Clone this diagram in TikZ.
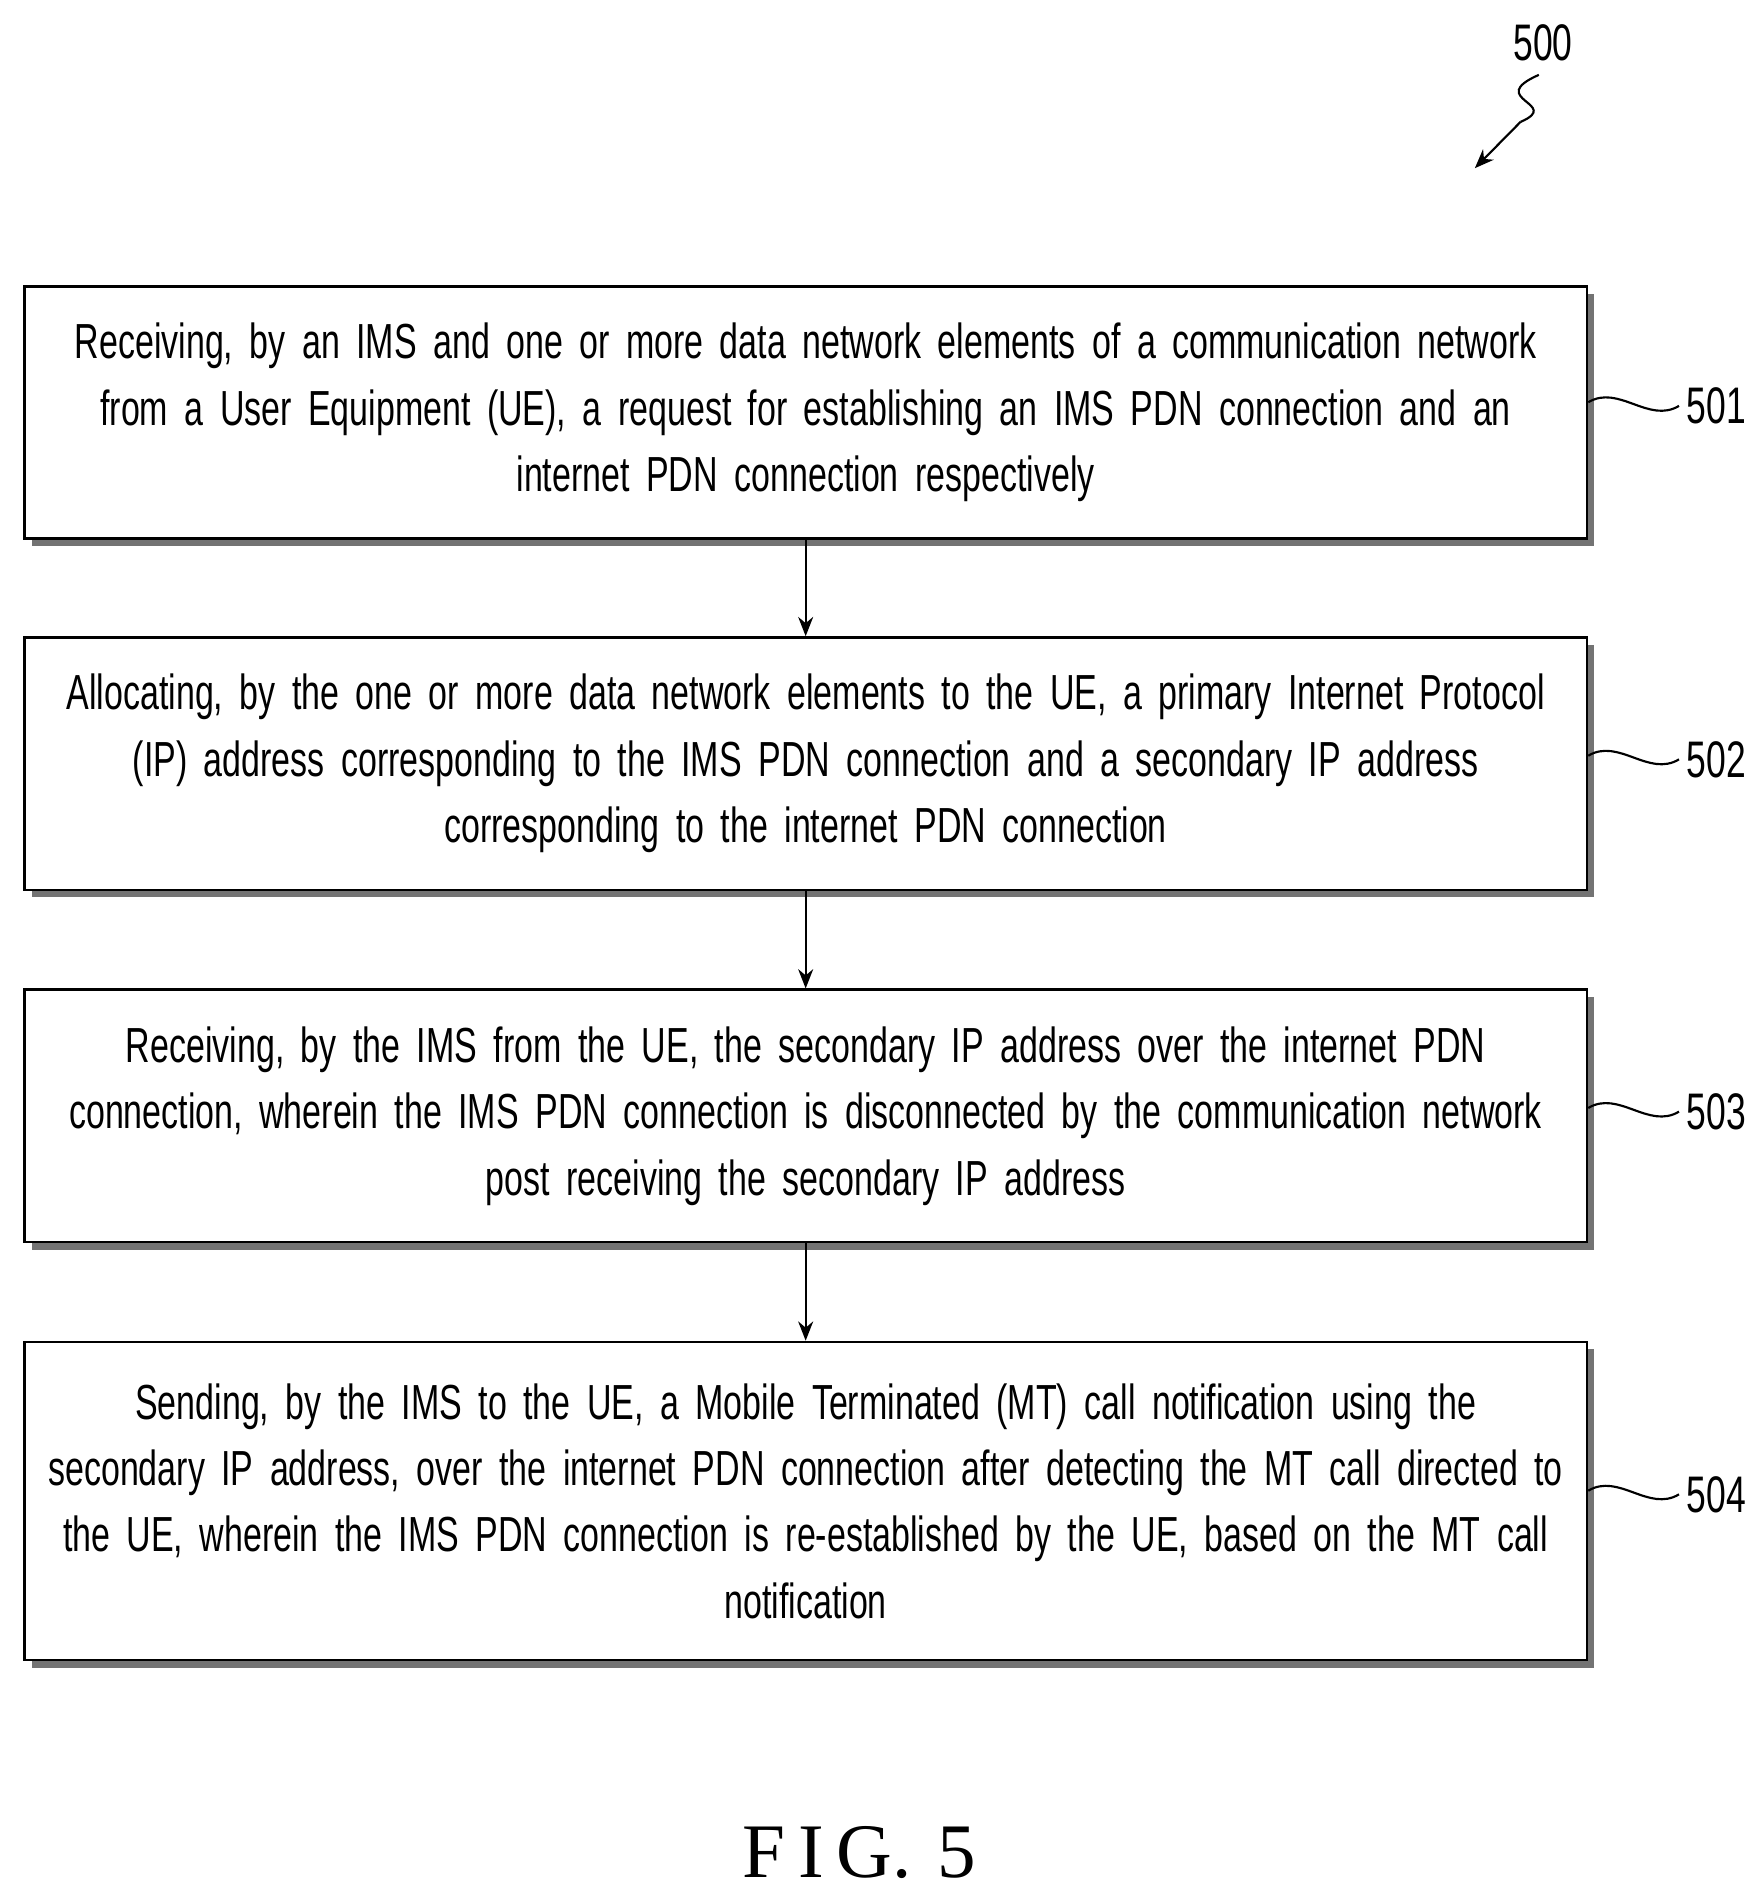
\documentclass[tikz,border=0pt]{standalone}
\usepackage{fontspec}
\setmainfont{Liberation Sans}[FakeStretch=0.69]
\newfontfamily\figfont{Liberation Serif}
\usetikzlibrary{shadows,arrows.meta}
\tikzset{
  stepbox/.style={draw, line width=1.2pt, fill=white, minimum width=25.64cm,
    text width=25cm, align=center, font=\fontsize{23}{31}\selectfont,
    drop shadow={shadow xshift=3.5pt, shadow yshift=-3.5pt, fill=black!55, opacity=1}},
  tag/.style={font=\fontsize{24}{28}\selectfont},
  flow/.style={-{Stealth[length=9pt,width=7pt]}, line width=1pt}
}
\begin{document}
\begin{tikzpicture}
\useasboundingbox (0,0) rectangle (28.8,-31.16);
% steps
\node[stepbox, minimum height=4.14cm] (s501) at (13.22,-6.77)
  {Receiving, by an IMS and one or more data network elements of a communication network\\
   from a User Equipment (UE), a request for establishing an IMS PDN connection and an\\
   internet PDN connection respectively};
\node[stepbox, minimum height=4.14cm] (s502) at (13.22,-12.53)
  {Allocating, by the one or more data network elements to the UE, a primary Internet Protocol\\
   (IP) address corresponding to the IMS PDN connection and a secondary IP address\\
   corresponding to the internet PDN connection};
\node[stepbox, minimum height=4.14cm] (s503) at (13.22,-18.31)
  {Receiving, by the IMS from the UE, the secondary IP address over the internet PDN\\
   connection, wherein the IMS PDN connection is disconnected by the communication network\\
   post receiving the secondary IP address};
\node[stepbox, minimum height=5.22cm] (s504) at (13.22,-24.63)
  {Sending, by the IMS to the UE, a Mobile Terminated (MT) call notification using the\\
   secondary IP address, over the internet PDN connection after detecting the MT call directed to\\
   the UE, wherein the IMS PDN connection is re-established by the UE, based on the MT call\\
   notification};
\draw[flow] (s501) -- (s502);
\draw[flow] (s502) -- (s503);
\draw[flow] (s503) -- (s504);
% reference numerals
\foreach \n/\y in {501/-6.66, 502/-12.46, 503/-18.24, 504/-24.52}{
  \node[tag, anchor=west] (t\n) at (27.55,\y) {\n};
  \draw[line width=1pt] (s\n.east |- t\n.west) ++(0,0.06)
    .. controls +(0.5,0.3) and +(-0.5,-0.3) .. (t\n.west);
}
\node[tag] (t500) at (25.32,-0.7) {500};
\coordinate (c500) at (24.2,-2.76);
\coordinate (m500) at (24.95,-2.0);
\draw[line width=1pt] ([xshift=-2pt,yshift=-3pt]t500.south)
  .. controls +(-0.9,-0.4) and +(0.7,0.3) .. (m500);
\draw[flow] (m500) -- (c500);
\node[font=\figfont\fontsize{36}{40}\selectfont] (fig) at (14.1,-30.4) {F\,I\,G.\,\,5};
\end{tikzpicture}
\end{document}
